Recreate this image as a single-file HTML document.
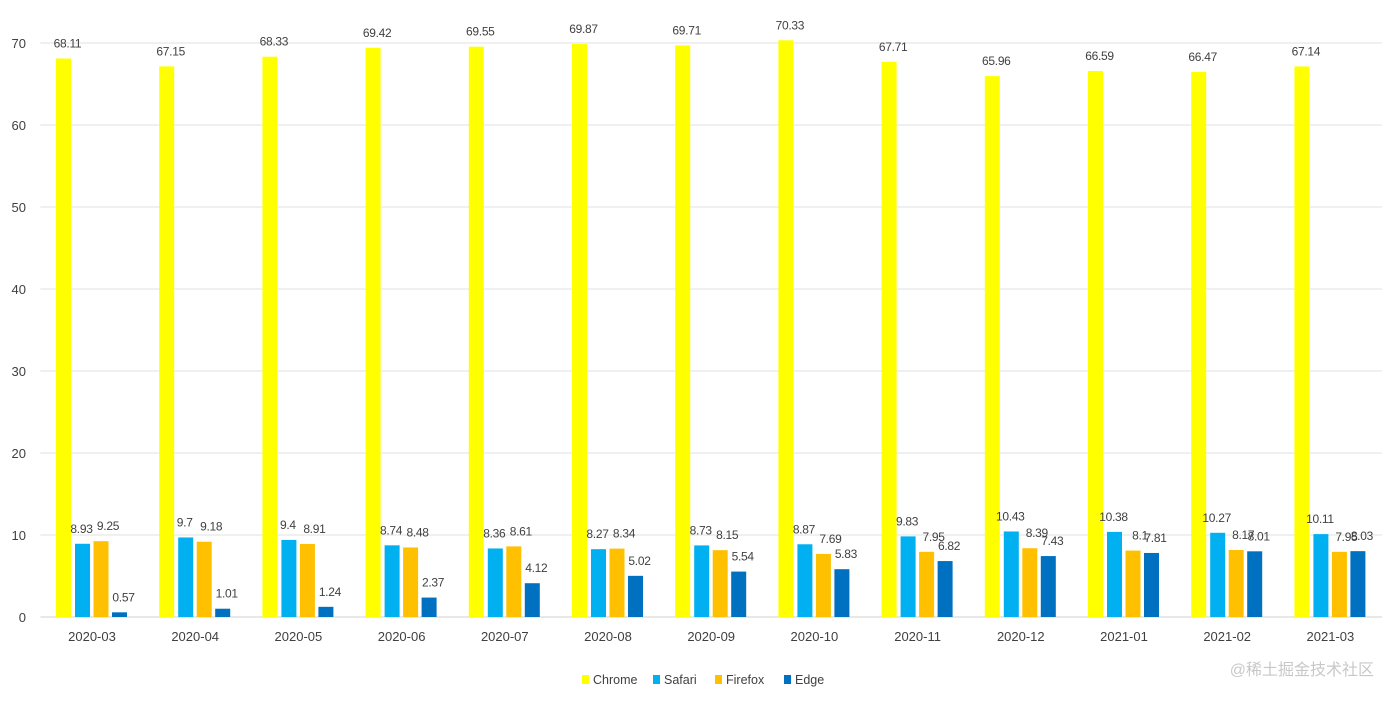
<!DOCTYPE html>
<html><head><meta charset="utf-8"><style>
body{margin:0;background:#fff;}
svg text{font-family:"Liberation Sans","Noto Sans CJK SC",sans-serif;fill:#404040;}
</style></head><body>
<svg id="c" width="1393" height="699"></svg>
<script>
const categories=["2020-03","2020-04","2020-05","2020-06","2020-07","2020-08","2020-09","2020-10","2020-11","2020-12","2021-01","2021-02","2021-03"];
const seriesNames=["Chrome","Safari","Firefox","Edge"];
const chrome=[68.11,67.15,68.33,69.42,69.55,69.87,69.71,70.33,67.71,65.96,66.59,66.47,67.14];
const safari=[8.93,9.7,9.4,8.74,8.36,8.27,8.73,8.87,9.83,10.43,10.38,10.27,10.11];
const firefox=[9.25,9.18,8.91,8.48,8.61,8.34,8.15,7.69,7.95,8.39,8.1,8.17,7.95];
const edge=[0.57,1.01,1.24,2.37,4.12,5.02,5.54,5.83,6.82,7.43,7.81,8.01,8.03];
const yTicks=[0,10,20,30,40,50,60,70];
const colors=["#FFFF00","#00B0F0","#FFC000","#0070C0"];
const NS="http://www.w3.org/2000/svg";
const svg=document.getElementById('c');
const left=40.4,right=1382,y0=617,pxPer=8.2;
const gw=(right-left)/categories.length;
function y(v){return y0-v*pxPer;}
function gx(i){return left+gw*(i+0.5);}
function mk(t,a){const e=document.createElementNS(NS,t);for(const k in a)e.setAttribute(k,a[k]);svg.appendChild(e);return e;}
yTicks.forEach(t=>{
 const l=mk('line',{x1:left,x2:right,y1:y(t),y2:y(t),stroke:t===0?'#d0d0d0':'#e0e0e0','stroke-width':1});
 
 
 const tx=mk('text',{x:26,y:y(t)+5,'text-anchor':'end','font-size':13});
 tx.textContent=t;
 
 
});
const all=[chrome,safari,firefox,edge];
const offs=[-28.5,-9.5,9,27.5];
const loffs=[4,-1,7,4];
categories.forEach((c,i)=>{
 const cx=gx(i);
 all.forEach((s,k)=>{
  const v=s[i];const bx=cx+offs[k]-7.5;
  const r=mk('rect',{x:bx,y:y(v),width:15,height:y0-y(v),fill:colors[k]});
  
  
  const t=mk('text',{x:bx+7.5+loffs[k],y:y(v)-11,'text-anchor':'middle','font-size':12,'letter-spacing':-0.3});
  t.textContent=v;
  
  
 });
 const lt=mk('text',{x:cx,y:641,'text-anchor':'middle','font-size':13});
 lt.textContent=c;
 
 
});
const lx=[582,653,715,784];
seriesNames.forEach((n,k)=>{
 const r=mk('rect',{x:lx[k],y:675,width:7,height:9,fill:colors[k]});
 
 
 const t=mk('text',{x:lx[k]+11,y:684,'font-size':12.5});
 t.textContent=n;
 
 
});
const w=mk('text',{x:1374,y:675,'text-anchor':'end','font-size':16});
w.setAttribute('style','fill:#c8c8c8');
w.textContent='@稀土掘金技术社区';


</script>
</body></html>
